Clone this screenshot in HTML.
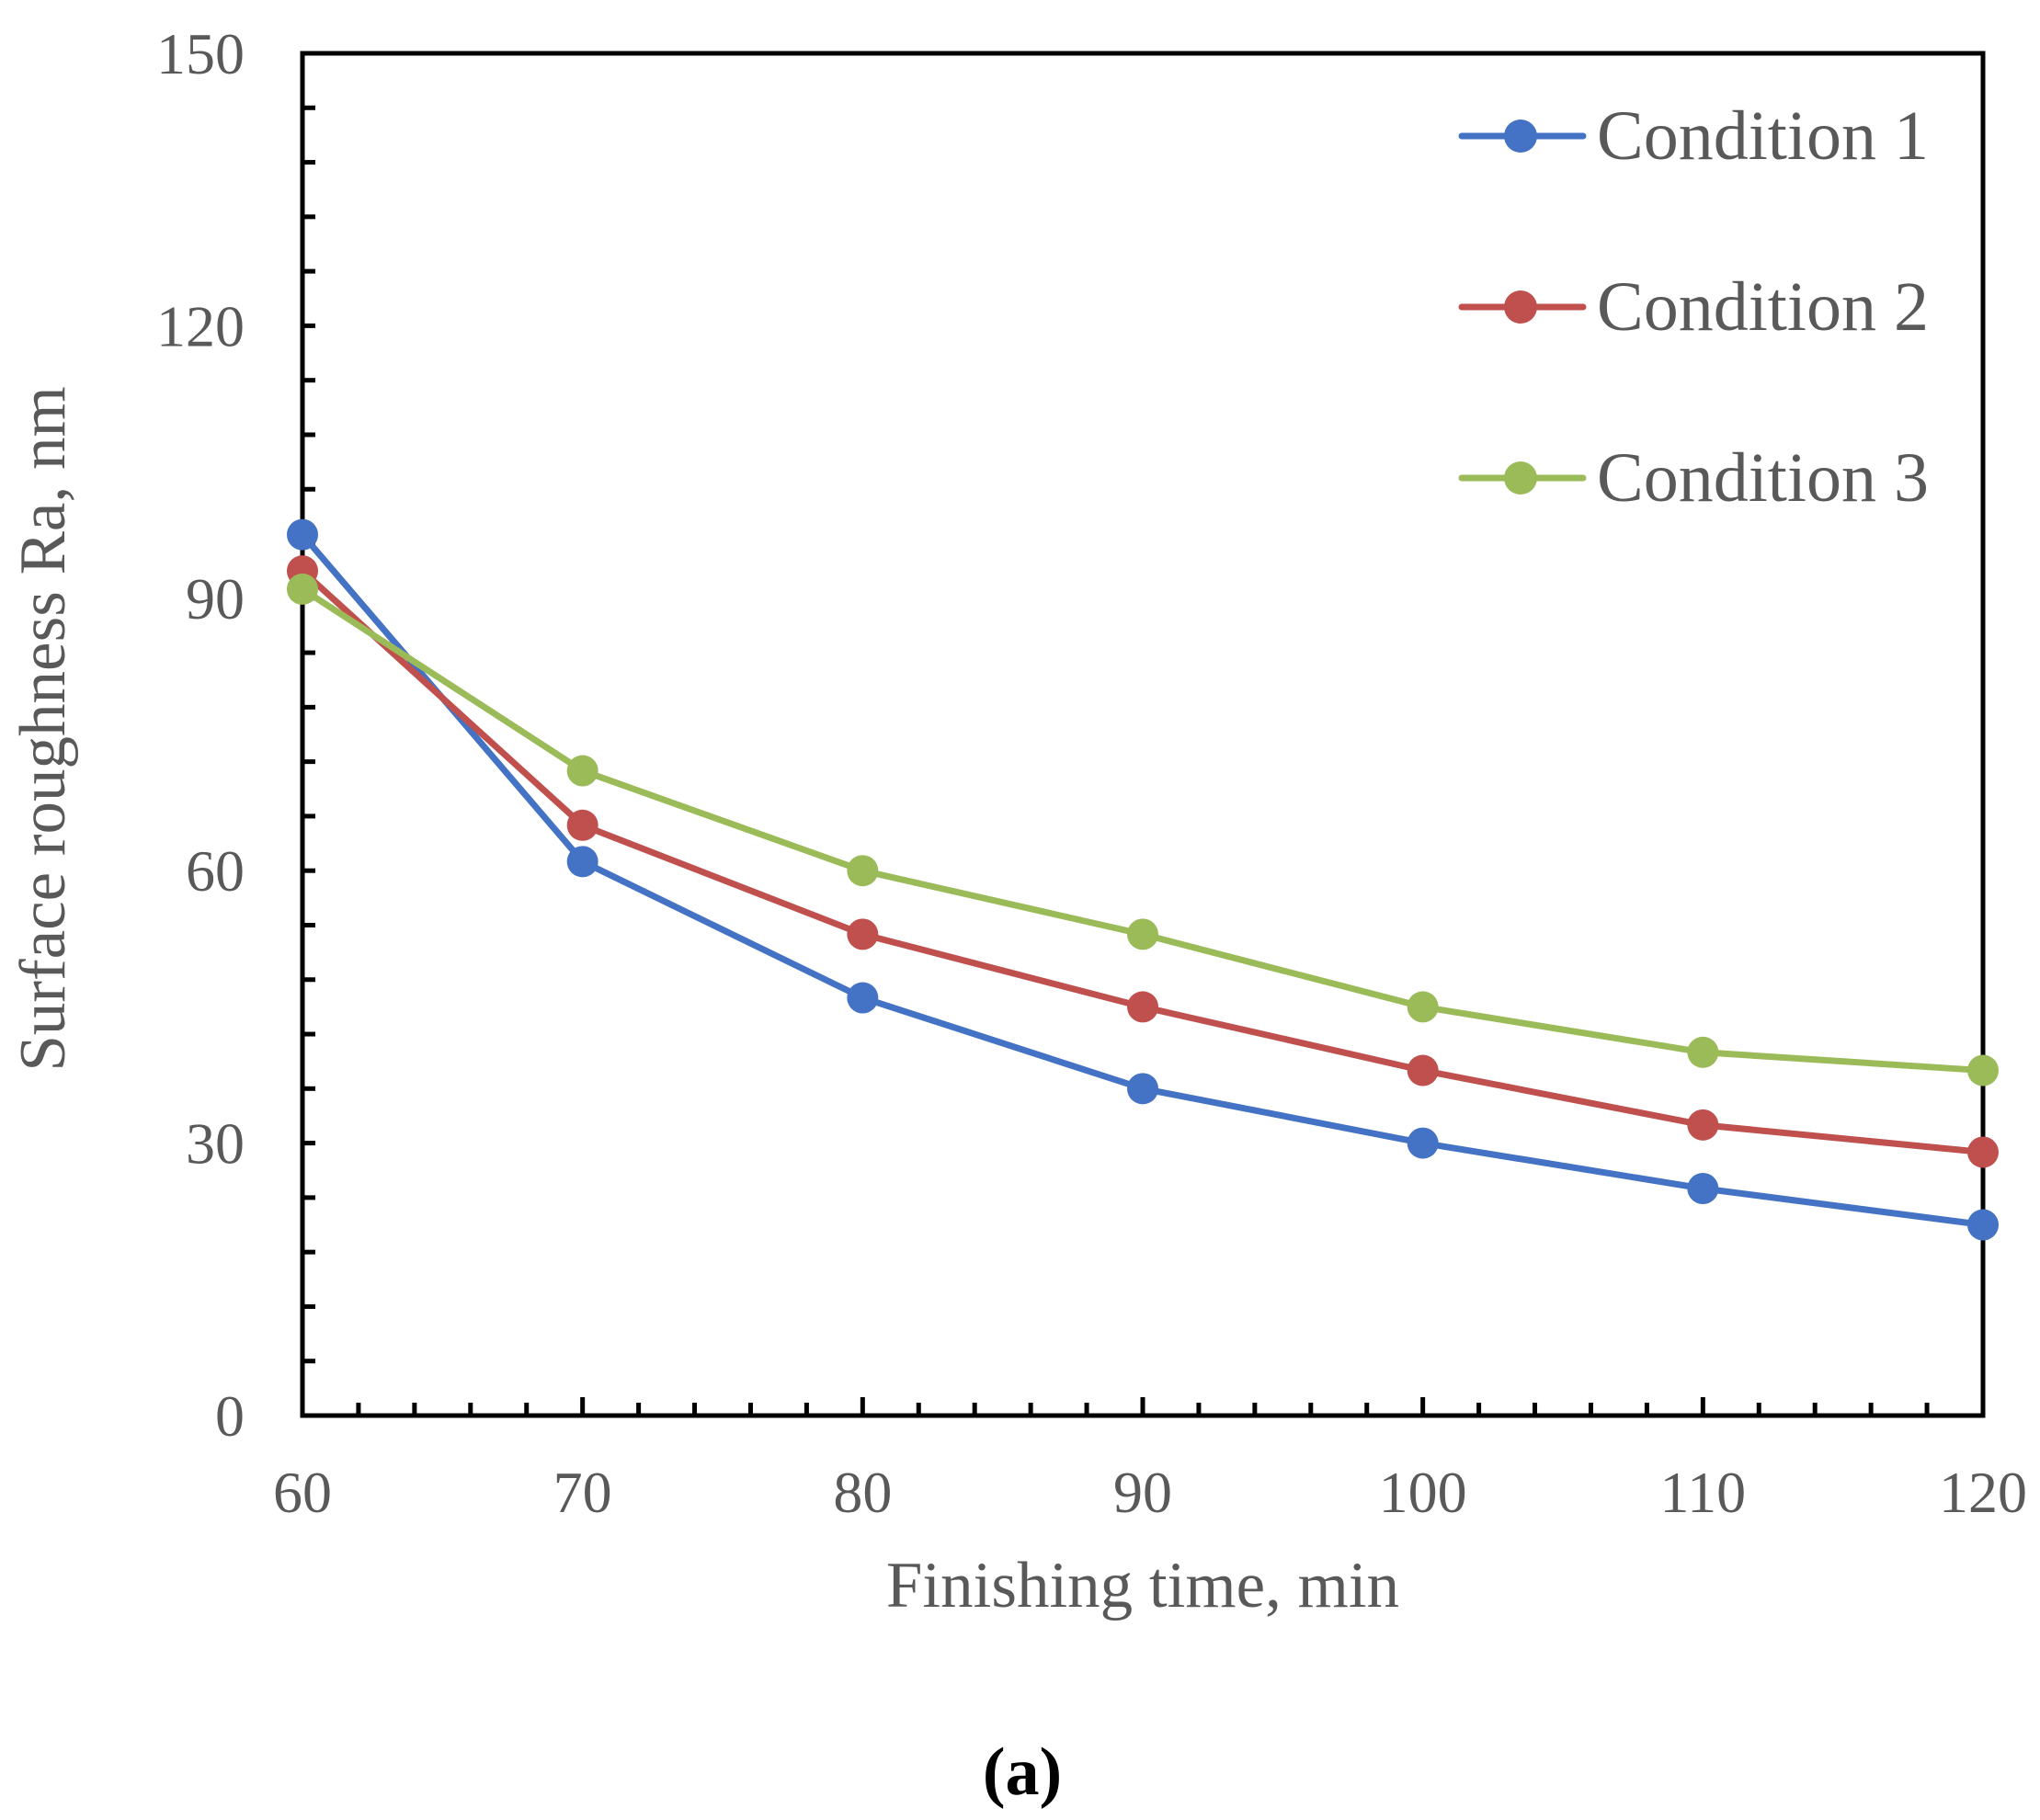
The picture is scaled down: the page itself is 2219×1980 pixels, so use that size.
<!DOCTYPE html>
<html><head><meta charset="utf-8"><style>
html,body{margin:0;padding:0;background:#fff;}
svg{display:block;}
text{font-family:"Liberation Serif",serif;}
</style></head><body>
<svg id="chart" width="2219" height="1980" xmlns="http://www.w3.org/2000/svg">
<g id="grid-layer"></g>
<text x="1243" y="1748" font-size="71" fill="#595959" text-anchor="middle">Finishing time, min</text>
<text x="0" y="0" font-size="71" fill="#595959" text-anchor="middle" transform="translate(70,793) rotate(-90)">Surface roughness Ra, nm</text>
<text x="1112" y="1952" font-size="74" font-weight="bold" fill="#000" text-anchor="middle">(a)</text>
</svg>
<script>
const xValues = [60, 70, 80, 90, 100, 110, 120];
const seriesNames = ["Condition 1", "Condition 2", "Condition 3"];
const cond1 = [97, 61, 46, 36, 30, 25, 21];
const cond2 = [93, 65, 53, 45, 38, 32, 29];
const cond3 = [91, 71, 60, 53, 45, 40, 38];
const xTicks = [60, 70, 80, 90, 100, 110, 120];
const yTicks = [0, 30, 60, 90, 120, 150];

const colors = ["#4472C4", "#C0504D", "#9BBB59"];
const allSeries = [cond1, cond2, cond3];
const L = 329, R = 2157, T = 58, B = 1540;
const xMin = 60, xMax = 120, yMin = 0, yMax = 150;
function sx(v){ return L + (v - xMin) / (xMax - xMin) * (R - L); }
function sy(v){ return B - (v - yMin) / (yMax - yMin) * (B - T); }
const NS = "http://www.w3.org/2000/svg";
const svg = document.getElementById('chart');
const g = document.getElementById('grid-layer');
function mk(tag, attrs, parent){
  const e = document.createElementNS(NS, tag);
  for (const k in attrs) e.setAttribute(k, attrs[k]);
  (parent || svg).appendChild(e);
  return e;
}
const frame = mk('rect', {x:L, y:T, width:R-L, height:B-T, fill:'none', stroke:'#000', 'stroke-width':5}, g);


for (let v = xMin; v <= xMax; v += 2) {
  const major = (v - xMin) % 10 === 0;
  const t = mk('line', {x1:sx(v), x2:sx(v), y1:B, y2:B - (major ? 20 : 14), stroke:'#000', 'stroke-width':5}, g);
  
  
}
for (let v = yMin; v <= yMax; v += 6) {
  const t = mk('line', {x1:L, x2:L + 14, y1:sy(v), y2:sy(v), stroke:'#000', 'stroke-width':5}, g);
  
  
}
xTicks.forEach(v => {
  const t = mk('text', {x:sx(v), y:1645, 'font-size':64, fill:'#595959', 'text-anchor':'middle'});
  t.textContent = v;
  
  
});
yTicks.forEach(v => {
  const t = mk('text', {x:266, y:sy(v) + 22, 'font-size':64, fill:'#595959', 'text-anchor':'end'});
  t.textContent = v;
  
  
});
allSeries.forEach((data, i) => {
  const pts = data.map((v, j) => sx(xValues[j]) + ',' + sy(v)).join(' ');
  const pl = mk('polyline', {points:pts, fill:'none', stroke:colors[i], 'stroke-width':7, 'stroke-linejoin':'round'});
  
  
  data.forEach((v, j) => {
    const c = mk('circle', {cx:sx(xValues[j]), cy:sy(v), r:17, fill:colors[i]});
    
    
  });
});
const legY = [148, 334, 520];
seriesNames.forEach((name, i) => {
  const y = legY[i];
  const ln = mk('line', {x1:1590, x2:1722, y1:y, y2:y, stroke:colors[i], 'stroke-width':7, 'stroke-linecap':'round'});
  
  
  const c = mk('circle', {cx:1654, cy:y, r:18, fill:colors[i]});
  
  
  const t = mk('text', {x:1737, y:y + 25, 'font-size':76, fill:'#595959'});
  t.textContent = name;
  
  
});
</script>
</body></html>
